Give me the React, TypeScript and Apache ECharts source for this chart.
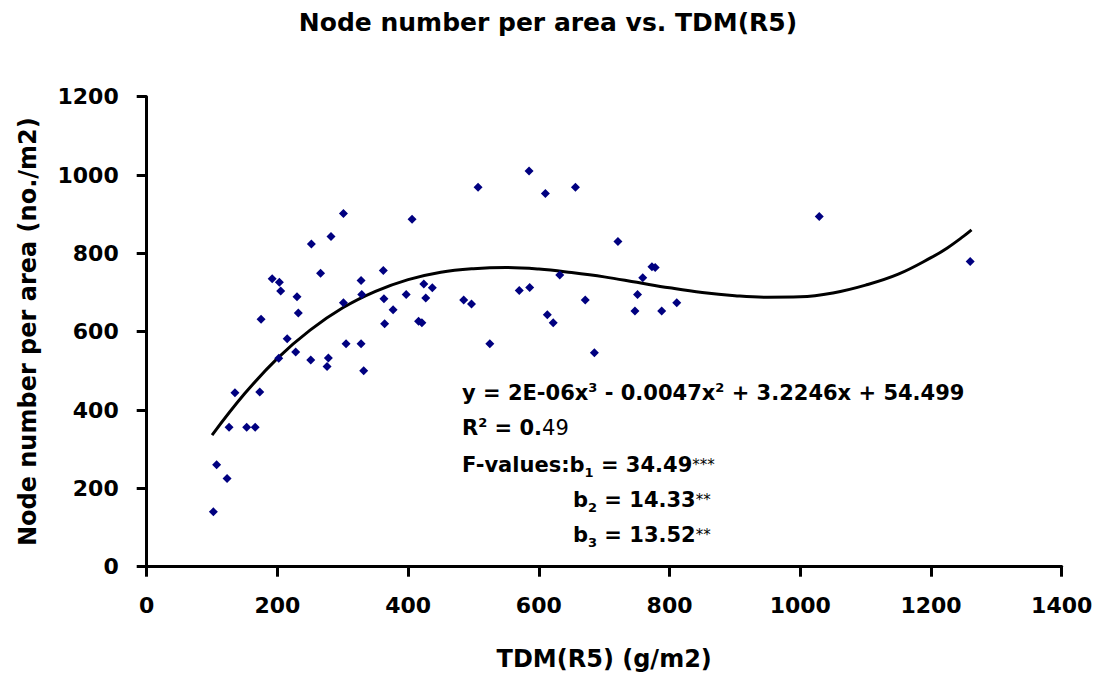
import React, { useEffect, useRef } from 'react';
import * as echarts from 'echarts';

// TDM(R5) (g/m2) of each observation
const tdmValues = [
  102, 107, 123, 126, 135, 153, 166, 173, 175, 192, 202, 203, 205, 215, 228, 230, 232,
  251, 252, 266, 276, 278, 282, 301, 301, 305, 328, 328, 329, 332, 362, 363, 364, 377,
  397, 406, 416, 421, 424, 427, 437, 485, 497, 507, 525, 570, 585, 586, 610, 613, 622,
  632, 656, 671, 685, 721, 747, 751, 759, 773, 778, 788, 811, 1029, 1260,
];
// Node number per area (no./m2) of each observation
const nodeValues = [
  140, 260, 225, 356, 444, 356, 356, 446, 632, 735, 532, 726, 704, 582, 548, 689, 648,
  528, 824, 749, 511, 533, 843, 902, 674, 569, 731, 569, 695, 500, 756, 684, 620, 656,
  695, 887, 627, 623, 722, 686, 712, 681, 671, 969, 569, 705, 1010, 713, 953, 643, 623,
  745, 969, 681, 546, 830, 653, 695, 738, 766, 764, 653, 674, 894, 779,
];
// Trend line
const trendTdm = [
  100, 150, 200, 250, 300, 350, 400, 450, 500, 550, 600, 650, 700, 750, 800, 850, 900,
  950, 1000, 1050, 1100, 1150, 1200, 1225, 1250, 1262,
];
const trendNodes = [
  336, 442, 532, 604, 661, 703, 733, 752, 761, 764, 760, 751, 740, 726, 712, 700, 692,
  688, 689, 699, 719, 747, 789, 814, 844, 860,
];

const FONT = 'DejaVu Sans';

export default function App() {
  const ref = useRef<HTMLDivElement>(null);

  useEffect(() => {
    if (!ref.current) return;
    const chart = echarts.init(ref.current, null, { renderer: 'svg' });
    const axisCommon = {
      type: 'value' as const,
      nameLocation: 'middle' as const,
      nameTextStyle: { fontFamily: FONT, fontWeight: 'bold', fontSize: 24, color: '#000' },
      axisLine: { show: true, onZero: false, lineStyle: { color: '#000', width: 3 } },
      axisTick: { show: true, inside: false, length: 10, lineStyle: { color: '#000', width: 3 } },
      axisLabel: {
        fontFamily: FONT,
        fontWeight: 'bold',
        fontSize: 22,
        color: '#000',
        margin: 28,
        formatter: (v: number) => String(v),
      },
      splitLine: { show: false },
    };
    const mainTok = { fontFamily: FONT, fontWeight: 'bold', fontSize: 21, lineHeight: 24, verticalAlign: 'middle', fill: '#000' };
    const mainTokSub = { ...mainTok, lineHeight: 28 };
    const supTok = { fontFamily: FONT, fontWeight: 'bold', fontSize: 13, lineHeight: 13, verticalAlign: 'top', fill: '#000' };
    const subTok = { fontFamily: FONT, fontWeight: 'bold', fontSize: 13, lineHeight: 13, verticalAlign: 'bottom', fill: '#000' };
    const normTok = { ...mainTok, fontWeight: 'normal' };
    const starTok = { fontFamily: FONT, fontWeight: 'normal', fontSize: 15, lineHeight: 15, verticalAlign: 'middle', fill: '#000' };

    const eqX = 462;
    chart.setOption({
      animation: false,
      backgroundColor: '#ffffff',
      title: {
        text: 'Node number per area vs. TDM(R5)',
        left: 'center',
        top: 5,
        textStyle: { fontFamily: FONT, fontWeight: 'bold', fontSize: 25, color: '#000' },
      },
      grid: { left: 146.7, right: 34.3, top: 96.7, bottom: 112.3 },
      xAxis: {
        ...axisCommon,
        min: 0,
        max: 1400,
        interval: 200,
        name: 'TDM(R5) (g/m2)',
        nameGap: 80,
      },
      yAxis: {
        ...axisCommon,
        min: 0,
        max: 1200,
        interval: 200,
        name: 'Node number per area (no./m2)',
        nameGap: 107,
      },
      series: [
        {
          type: 'line',
          data: trendTdm.map((x, i) => [x, trendNodes[i]]),
          smooth: 0.4,
          showSymbol: false,
          lineStyle: { color: '#000', width: 3 },
          z: 1,
        },
        {
          type: 'scatter',
          data: tdmValues.map((x, i) => [x, nodeValues[i]]),
          symbol: 'diamond',
          symbolSize: 9,
          itemStyle: { color: '#000080', opacity: 1 },
          z: 2,
        },
      ],
      graphic: [
        {
          type: 'text',
          x: eqX,
          y: 393,
          style: {
            text: '{m|y = 2E-06x}{s|3}{m| - 0.0047x}{s|2}{m| + 3.2246x + 54.499}',
            verticalAlign: 'middle',
            rich: { m: mainTok, s: supTok },
          },
        },
        {
          type: 'text',
          x: eqX,
          y: 428,
          style: {
            text: '{m|R}{s|2}{m| = 0.}{n|49}',
            verticalAlign: 'middle',
            rich: { m: mainTok, s: supTok, n: normTok },
          },
        },
        {
          type: 'text',
          x: eqX,
          y: 465,
          style: {
            text: '{m|F-values:b}{b|1}{m| = 34.49}{t|***}',
            verticalAlign: 'middle',
            rich: { m: mainTokSub, b: subTok, t: starTok },
          },
        },
        {
          type: 'text',
          x: 573,
          y: 500,
          style: {
            text: '{m|b}{b|2}{m| = 14.33}{t|**}',
            verticalAlign: 'middle',
            rich: { m: mainTokSub, b: subTok, t: starTok },
          },
        },
        {
          type: 'text',
          x: 573,
          y: 535,
          style: {
            text: '{m|b}{b|3}{m| = 13.52}{t|**}',
            verticalAlign: 'middle',
            rich: { m: mainTokSub, b: subTok, t: starTok },
          },
        },
      ],
    });
    return () => chart.dispose();
  }, []);

  return (
    <div
      ref={ref}
      style={{ position: 'fixed', left: 0, top: 0, width: 1096, height: 679, background: '#fff' }}
    />
  );
}
